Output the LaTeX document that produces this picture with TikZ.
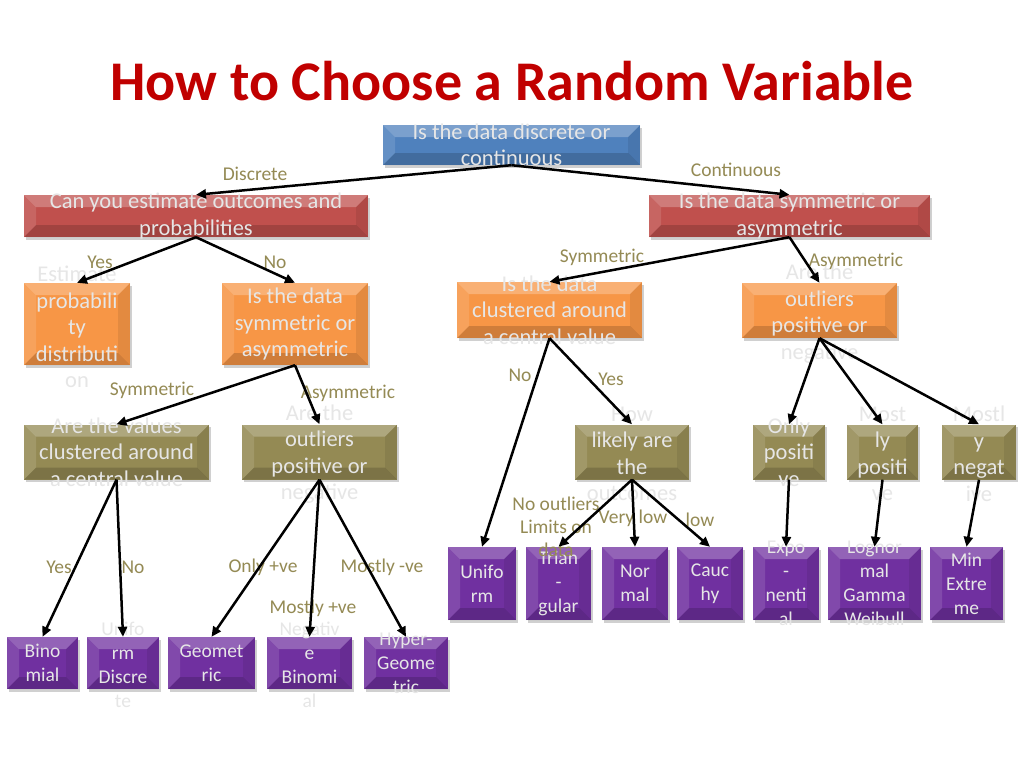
\documentclass[tikz,border=0pt]{standalone}
\usepackage{fontspec}
\setmainfont{Carlito}
\usepackage{xcolor}
\usepackage{tikz}
\usetikzlibrary{arrows.meta, shadows}
\definecolor{qblue}{HTML}{4F81BD}
\definecolor{qred}{HTML}{C0504D}
\definecolor{qorange}{HTML}{F79646}
\definecolor{qolive}{HTML}{948A54}
\definecolor{qpurple}{HTML}{7030A0}
\definecolor{qtitle}{HTML}{C00000}
\definecolor{qlabel}{HTML}{948A54}
\definecolor{boxtext}{HTML}{E6E6E6}
\tikzstyle{bevel} = [rectangle, inner sep=0pt, drop shadow={shadow xshift=1.5pt, shadow yshift=-2.5pt, opacity=0.3, fill=black!60},
    path picture={
        \fill[white, opacity=0.25] (path picture bounding box.north west) -- (path picture bounding box.north east) -- ([xshift=-12pt, yshift=-12pt]path picture bounding box.north east) -- ([xshift=12pt, yshift=-12pt]path picture bounding box.north west) -- cycle;
        \fill[white, opacity=0.12] (path picture bounding box.north west) -- ([xshift=12pt, yshift=-12pt]path picture bounding box.north west) -- ([xshift=12pt, yshift=12pt]path picture bounding box.south west) -- (path picture bounding box.south west) -- cycle;
        \fill[black, opacity=0.16] (path picture bounding box.south west) -- (path picture bounding box.south east) -- ([xshift=-12pt, yshift=12pt]path picture bounding box.south east) -- ([xshift=12pt, yshift=12pt]path picture bounding box.south west) -- cycle;
        \fill[black, opacity=0.08] (path picture bounding box.north east) -- ([xshift=-12pt, yshift=-12pt]path picture bounding box.north east) -- ([xshift=-12pt, yshift=12pt]path picture bounding box.south east) -- (path picture bounding box.south east) -- cycle;
    }]
\tikzstyle{topq} = [bevel, fill=qblue]
\tikzstyle{redq} = [bevel, fill=qred]
\tikzstyle{orangeq} = [bevel, fill=qorange]
\tikzstyle{oliveq} = [bevel, fill=qolive]
\tikzstyle{dist} = [bevel, fill=qpurple]
\tikzstyle{qtext} = [text=boxtext, align=center, font=\fontsize{22.5}{26.5}\selectfont]
\tikzstyle{dtext} = [text=boxtext, align=center, font=\fontsize{19.5}{24}\selectfont]
\tikzstyle{answer} = [text=qlabel, align=center, inner sep=0pt, font=\fontsize{19.5}{23}\selectfont]
\tikzstyle{arrow} = [line width=2.5pt, -{Triangle[length=10pt, width=9pt]}]

\begin{document}
\begin{tikzpicture}[x=1pt, y=-1pt]
    \fill[white] (0,0) rectangle (1024,768);
    \useasboundingbox (0,0) rectangle (1024,768);

    \node (title) at (512,81) [text=qtitle, font=\bfseries\fontsize{56}{60}\selectfont] {How to Choose a Random Variable};

    \node (qtype) at (511.5,145) [topq, minimum width=257pt, minimum height=40pt, label={[qtext]center:{Is the data discrete or\\continuous}}] {};

    \node (qdisc) at (196,216) [redq, minimum width=344pt, minimum height=42pt, label={[qtext]center:{Can you estimate outcomes and\\probabilities}}] {};
    \node (qcont) at (789.5,216) [redq, minimum width=281pt, minimum height=42pt, label={[qtext]center:{Is the data symmetric or\\asymmetric}}] {};

    \node (estprob) at (77,324) [orangeq, minimum width=106pt, minimum height=82pt, label={[qtext, yshift=-3pt]center:{Estimate\\probabili\\ty\\distributi\\on}}] {};
    \node (dsym) at (295,324) [orangeq, minimum width=146pt, minimum height=82pt, label={[qtext]center:{Is the data\\symmetric or\\asymmetric}}] {};
    \node (cclust) at (549.5,310) [orangeq, minimum width=185pt, minimum height=56pt, label={[qtext]center:{Is the data\\clustered around\\a central value}}] {};
    \node (cout) at (819.5,310.5) [orangeq, minimum width=155pt, minimum height=55pt, label={[qtext, yshift=-3pt]center:{Are the\\outliers\\positive or\\negative}}] {};

    \node (dclust) at (116.5,452) [oliveq, minimum width=185pt, minimum height=55pt, label={[qtext]center:{Are the values\\clustered around\\a central value}}] {};
    \node (dout) at (319.5,452) [oliveq, minimum width=155pt, minimum height=55pt, label={[qtext, yshift=-2pt]center:{Are the\\outliers\\positive or\\negative}}] {};
    \node (clikely) at (632,452) [oliveq, minimum width=114pt, minimum height=55pt, label={[qtext, yshift=-2pt]center:{How\\likely are\\the\\outcomes}}] {};
    \node (cpos) at (789,452) [oliveq, minimum width=72pt, minimum height=55pt, label={[qtext]center:{Only\\positi\\ve}}] {};
    \node (cmpos) at (882.5,452) [oliveq, minimum width=71pt, minimum height=55pt, label={[qtext, yshift=-2pt]center:{Most\\ly\\positi\\ve}}] {};
    \node (cmneg) at (979,452) [oliveq, minimum width=74pt, minimum height=55pt, label={[qtext, yshift=-2pt]center:{Mostl\\y\\negat\\ive}}] {};

    \node (uniform) at (482,583.5) [dist, minimum width=68pt, minimum height=73pt, label={[dtext]center:{Unifo\\rm}}] {};
    \node (triangular) at (558.5,583.5) [dist, minimum width=65pt, minimum height=73pt, label={[dtext]center:{Trian\\-\\gular}}] {};
    \node (normal) at (635,583.5) [dist, minimum width=66pt, minimum height=73pt, label={[dtext]center:{Nor\\mal}}] {};
    \node (cauchy) at (710,583.5) [dist, minimum width=66pt, minimum height=73pt, label={[dtext]center:{Cauc\\hy}}] {};
    \node (expo) at (786,583.5) [dist, minimum width=66pt, minimum height=73pt, label={[dtext]center:{Expo\\-\\nenti\\al}}] {};
    \node (lognormal) at (874.5,583.5) [dist, minimum width=93pt, minimum height=73pt, label={[dtext]center:{Lognor\\mal\\Gamma\\Weibull}}] {};
    \node (minext) at (966.5,583.5) [dist, minimum width=73pt, minimum height=73pt, label={[dtext]center:{Min\\Extre\\me}}] {};

    \node (binomial) at (42.5,663) [dist, minimum width=71pt, minimum height=52pt, label={[dtext]center:{Bino\\mial}}] {};
    \node (unifd) at (123,663) [dist, minimum width=72pt, minimum height=52pt, label={[dtext, yshift=-2pt]center:{Unifo\\rm\\Discre\\te}}] {};
    \node (geometric) at (211.5,663) [dist, minimum width=87pt, minimum height=52pt, label={[dtext]center:{Geomet\\ric}}] {};
    \node (negbin) at (309.5,663) [dist, minimum width=85pt, minimum height=52pt, label={[dtext, yshift=-2pt]center:{Negativ\\e\\Binomi\\al}}] {};
    \node (hypergeo) at (406,663) [dist, minimum width=84pt, minimum height=52pt, label={[dtext]center:{Hyper-\\Geome\\tric}}] {};

    \node (lDisc) at (255,174) [answer] {Discrete};
    \node (lCont) at (736,170) [answer] {Continuous};
    \node (lYesA) at (100,262) [answer] {Yes};
    \node (lNoA) at (275,262) [answer] {No};
    \node (lSymC) at (602,257) [answer] {Symmetric};
    \node (lAsymC) at (856,261) [answer] {Asymmetric};
    \node (lSymD) at (152,390) [answer] {Symmetric};
    \node (lAsymD) at (348,393) [answer] {Asymmetric};
    \node (lNoC) at (520,375) [answer] {No};
    \node (lYesC) at (611,379) [answer] {Yes};
    \node (lNoOut) at (556,527) [answer] {No outliers\\Limits on\\data};
    \node (lVlow) at (633,518) [answer] {Very low};
    \node (lLow) at (700,520) [answer] {low};
    \node (lYesD) at (59,567) [answer] {Yes};
    \node (lNoD) at (133,567) [answer] {No};
    \node (lOnly) at (263,567) [answer] {Only +ve};
    \node (lMneg) at (382,567) [answer] {Mostly -ve};
    \node (lMpos) at (313,608) [answer] {Mostly +ve};

    \draw [arrow] (qtype.south) -- (qdisc.north);
    \draw [arrow] (qtype.south) -- (qcont.north);
    \draw [arrow] (qdisc.south) -- (estprob.north);
    \draw [arrow] (qdisc.south) -- (dsym.north);
    \draw [arrow] (qcont.south) -- (cclust.north);
    \draw [arrow] (qcont.south) -- (cout.north);
    \draw [arrow] (dsym.south) -- (dclust.north);
    \draw [arrow] (dsym.south) -- (dout.north);
    \draw [arrow] (cclust.south) -- (uniform.north);
    \draw [arrow] (cclust.south) -- (clikely.north);
    \draw [arrow] (cout.south) -- (cpos.north);
    \draw [arrow] (cout.south) -- (cmpos.north);
    \draw [arrow] (cout.south) -- (cmneg.north);
    \draw [arrow] (dclust.south) -- (binomial.north);
    \draw [arrow] (dclust.south) -- (unifd.north);
    \draw [arrow] (dout.south) -- (geometric.north);
    \draw [arrow] (dout.south) -- (negbin.north);
    \draw [arrow] (dout.south) -- (hypergeo.north);
    \draw [arrow] (clikely.south) -- (triangular.north);
    \draw [arrow] (clikely.south) -- (normal.north);
    \draw [arrow] (clikely.south) -- (cauchy.north);
    \draw [arrow] (cpos.south) -- (expo.north);
    \draw [arrow] (cmpos.south) -- (lognormal.north);
    \draw [arrow] (cmneg.south) -- (minext.north);
\end{tikzpicture}
\end{document}
